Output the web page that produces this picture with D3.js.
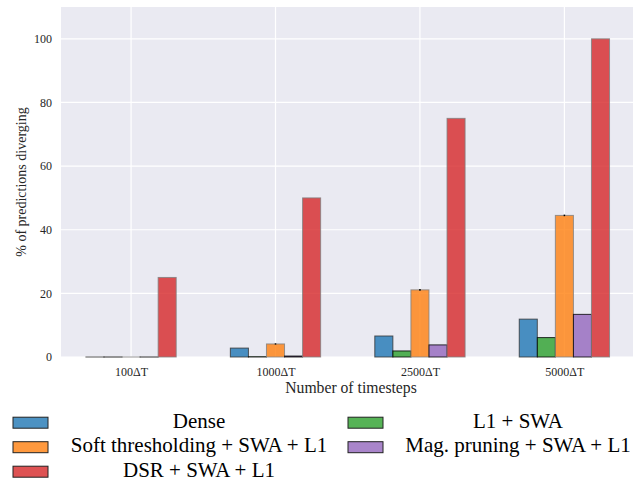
<!DOCTYPE html>
<html>
<head>
<meta charset="utf-8">
<script src="https://cdn.jsdelivr.net/npm/d3@7"></script>
<style>
  body { margin: 0; background: #fff; }
  svg { display: block; }
  svg text { font-family: "Liberation Serif", "DejaVu Serif", serif; }
</style>
</head>
<body>
<svg id="chart" width="643" height="484"></svg>
<script>
'use strict';

// data
var timesteps = ['100\u0394T', '1000\u0394T', '2500\u0394T', '5000\u0394T'];
var methods   = ['Dense', 'L1 + SWA', 'Soft thresholding + SWA + L1', 'Mag. pruning + SWA + L1', 'DSR + SWA + L1'];
var dense     = [0, 2.8, 6.6, 11.9];
var l1Swa     = [0, 0.1, 1.9, 6.1];
var softThr   = [0, 4.1, 21.1, 44.5];
var magPrune  = [0, 0.3, 3.8, 13.4];
var dsr       = [25, 50, 75, 100];
var softErr   = [0, 0.2, 0.25, 0.25];
var yTicks    = [0, 20, 40, 60, 80, 100];

var series = [dense, l1Swa, softThr, magPrune, dsr];
var colors = ['#1f77b4', '#2ca02c', '#ff7f0e', '#9467bd', '#d62728'];
var edges  = ['#333333', '#000000', '#808080', '#000000', '#808080'];
var serif  = '"Liberation Serif", "DejaVu Serif", serif';

var margin = {top: 7, right: 10, bottom: 127, left: 61}
    ,width  = 643 - margin.left - margin.right
    ,height = 484 - margin.top - margin.bottom;

var svg = d3.select('#chart');
var g = svg.append('g').attr('transform', 'translate(' + margin.left + ',' + margin.top + ')');

var x = d3.scaleLinear().domain([-0.485, 3.475]).range([0, width]);
var y = d3.scaleLinear().domain([0, 110]).range([height, 0]);
var barW = 0.125;

// background + grid
g.append('rect').attr('width', width).attr('height', height).attr('fill', '#eaeaf2');

g.selectAll('.hgrid').data(yTicks).enter().append('line')
  .attr('x1', 0).attr('x2', width)
  .attr('y1', function(d) { return y(d); }).attr('y2', function(d) { return y(d); })
  .attr('stroke', '#fff').attr('stroke-width', 1.2);

g.selectAll('.vgrid').data(timesteps).enter().append('line')
  .attr('y1', 0).attr('y2', height)
  .attr('x1', function(d, i) { return x(i); }).attr('x2', function(d, i) { return x(i); })
  .attr('stroke', '#fff').attr('stroke-width', 1.2);

// bars
series.forEach(function(vals, s) {
  var off = (s - 2) * barW;
  g.selectAll('.bar' + s).data(vals).enter().append('rect')
    .attr('x', function(d, i) { return x(i + off - barW / 2); })
    .attr('width', x(barW) - x(0))
    .attr('y', function(d) { return y(d); })
    .attr('height', function(d) { return Math.max(0.01, y(0) - y(d)); })
    .attr('fill', colors[s]).attr('fill-opacity', 0.8)
    .attr('stroke', edges[s]).attr('stroke-opacity', 0.8).attr('stroke-width', 1);
});

// tiny error bars on soft thresholding
g.selectAll('.err').data(softThr).enter().append('line')
  .attr('x1', function(d, i) { return x(i); }).attr('x2', function(d, i) { return x(i); })
  .attr('y1', function(d, i) { return y(d + softErr[i]); })
  .attr('y2', function(d, i) { return y(d - softErr[i]); })
  .attr('stroke', '#000').attr('stroke-width', 1.5);

// axes (no domain line, seaborn style)
var yAxis = g.append('g').call(d3.axisLeft(y).tickValues(yTicks).tickSize(0).tickPadding(9));
var xAxis = g.append('g').attr('transform', 'translate(0,' + height + ')')
  .call(d3.axisBottom(x).tickValues([0, 1, 2, 3]).tickSize(0).tickPadding(10)
    .tickFormat(function(d) { return timesteps[d]; }));
[yAxis, xAxis].forEach(function(a) {
  a.attr('font-family', serif);
  a.select('.domain').remove();
  a.selectAll('text').attr('font-size', 12).attr('fill', '#262626');
});

svg.append('text')
  .attr('transform', 'translate(26,' + (margin.top + height / 2) + ') rotate(-90)')
  .attr('font-family', serif)
  .attr('text-anchor', 'middle').attr('font-size', 14).attr('fill', '#262626')
  .text('% of predictions diverging');

svg.append('text')
  .attr('x', 351).attr('y', 393)
  .attr('font-family', serif)
  .attr('text-anchor', 'middle').attr('font-size', 15.7).attr('fill', '#262626')
  .text('Number of timesteps');

// legend, two columns
var legendOrder = [0, 2, 4, 1, 3];
var legend = svg.append('g').attr('font-family', serif);
legendOrder.forEach(function(s, k) {
  var col = k < 3 ? 0 : 1
      ,row = k < 3 ? k : k - 3;
  var px = col === 0 ? 13 : 348
      ,tx = col === 0 ? 199 : 518
      ,base = 427.7 + row * 24.5;
  legend.append('rect')
    .attr('x', px).attr('y', base - 10.5).attr('width', 35).attr('height', 11)
    .attr('fill', colors[s]).attr('fill-opacity', 0.8)
    .attr('stroke', '#222').attr('stroke-width', 1);
  legend.append('text')
    .attr('x', tx).attr('y', base)
    .attr('text-anchor', 'middle').attr('font-size', 21).attr('fill', '#000')
    .text(methods[s]);
});
</script>
</body>
</html>
